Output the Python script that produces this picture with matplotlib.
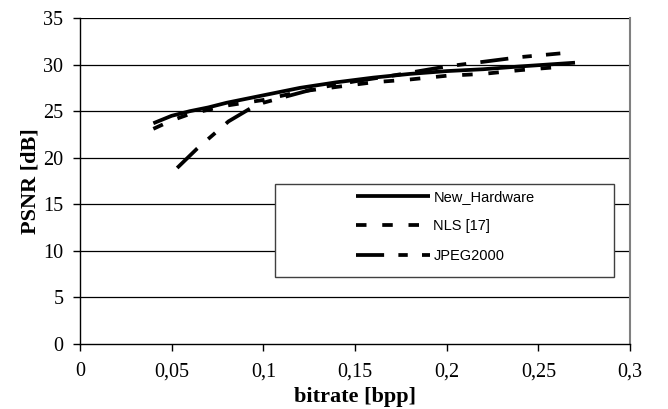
import matplotlib
matplotlib.use("Agg")
import matplotlib.pyplot as plt
from matplotlib.patches import Rectangle

# Data
nh_x = [0.04, 0.05, 0.06, 0.07, 0.08, 0.09, 0.10, 0.12, 0.14, 0.16, 0.18, 0.20, 0.22, 0.24, 0.27]
nh_y = [23.7, 24.5, 25.0, 25.4, 25.9, 26.3, 26.7, 27.5, 28.1, 28.6, 29.0, 29.3, 29.5, 29.8, 30.2]

nls_x = [0.04, 0.05, 0.06, 0.08, 0.10, 0.12, 0.14, 0.16, 0.18, 0.20, 0.22, 0.24, 0.265]
nls_y = [23.1, 24.0, 24.7, 25.6, 26.2, 27.1, 27.6, 28.1, 28.4, 28.8, 29.0, 29.4, 29.8]

jp_x = [0.053, 0.064, 0.074, 0.081, 0.093, 0.10, 0.113, 0.13, 0.15, 0.17, 0.185, 0.20, 0.22, 0.24, 0.262]
jp_y = [18.9, 21.0, 22.7, 23.9, 25.3, 25.9, 26.6, 27.5, 28.2, 28.8, 29.3, 29.8, 30.3, 30.8, 31.2]

x_ticks = [0, 0.05, 0.1, 0.15, 0.2, 0.25, 0.3]
x_labels = ["0", "0,05", "0,1", "0,15", "0,2", "0,25", "0,3"]
y_ticks = [0, 5, 10, 15, 20, 25, 30, 35]

plt.rcParams["font.family"] = "Liberation Serif"

fig = plt.figure(figsize=(6.68, 4.09), dpi=100)
ax = fig.add_axes([80 / 668, 65 / 409, 550 / 668, 326 / 409])

# gridlines
for yv in y_ticks[1:]:
    ax.axhline(yv, color="black", lw=0.9, zorder=1)

lw = 2.7
l1, = ax.plot(nh_x, nh_y, color="black", lw=lw, solid_capstyle="butt", label="New_Hardware", zorder=3)
l2, = ax.plot(nls_x, nls_y, color="black", lw=lw, dashes=(2.8, 4.2), dash_capstyle="butt", label="NLS [17]", zorder=3)
l3, = ax.plot(jp_x, jp_y, color="black", lw=lw, dashes=(7.5, 3.8, 2.5, 3.8), dash_capstyle="butt", label="JPEG2000", zorder=3)

ax.set_xlim(0, 0.3)
ax.set_ylim(0, 35)
ax.set_xticks(x_ticks)
ax.set_xticklabels(x_labels)
ax.set_yticks(y_ticks)
ax.tick_params(axis="both", direction="out", length=5, width=1, labelsize=14.5, colors="black")
ax.tick_params(axis="y", pad=7)
ax.tick_params(axis="x", pad=8)

ax.spines["top"].set_visible(False)
ax.spines["right"].set_color("#808080")
ax.spines["right"].set_linewidth(1.5)
ax.spines["left"].set_linewidth(1)
ax.spines["bottom"].set_linewidth(1)

ax.set_xlabel("bitrate [bpp]", fontsize=16, fontweight="bold", labelpad=4)
ax.set_ylabel("PSNR [dB]", fontsize=16, fontweight="bold", labelpad=2)

# legend box
box = Rectangle((0.3545, 0.2055), 0.6165, 0.2855, transform=ax.transAxes,
                facecolor="white", edgecolor="#404040", lw=1.0, zorder=4)
ax.add_patch(box)
leg = ax.legend(handles=[l1, l2, l3], loc="upper left", bbox_to_anchor=(0.502, 0.472),
                frameon=False, borderpad=0, borderaxespad=0, handlelength=5.1,
                handletextpad=0.2, labelspacing=1.05,
                prop={"family": "Liberation Sans", "size": 10.5})
leg.set_zorder(5)

fig.savefig("out.png", dpi=100)
